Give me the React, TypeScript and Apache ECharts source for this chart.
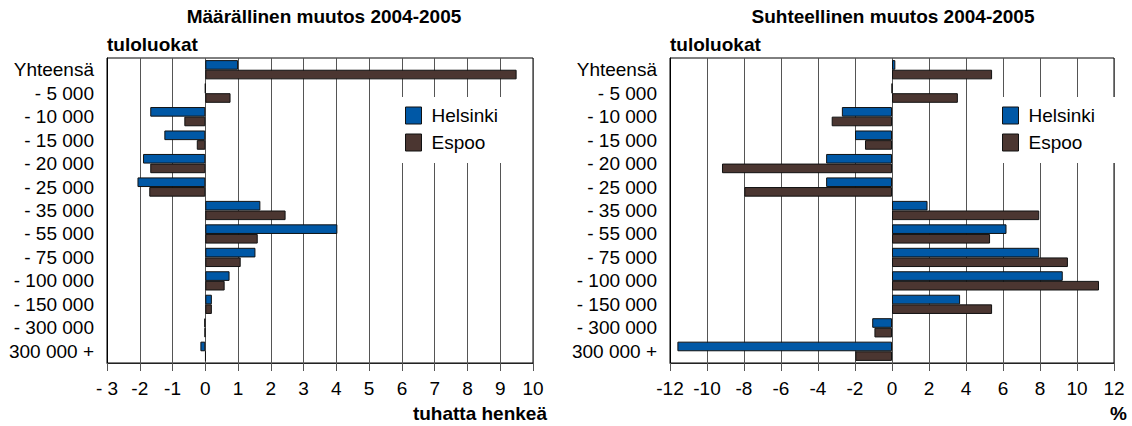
import React, { useEffect, useRef } from "react";
import * as echarts from "echarts";

const categories = [
  "Yhteensä",
  "- 5 000",
  "- 10 000",
  "- 15 000",
  "- 20 000",
  "- 25 000",
  "- 35 000",
  "- 55 000",
  "- 75 000",
  "- 100 000",
  "- 150 000",
  "- 300 000",
  "300 000 +",
];

// Määrällinen muutos (tuhatta henkeä)
const helsinkiAbs = [1.0, 0, -1.68, -1.25, -1.9, -2.07, 1.68, 4.03, 1.53, 0.74, 0.2, -0.03, -0.15];
const espooAbs = [9.5, 0.77, -0.64, -0.26, -1.68, -1.71, 2.45, 1.6, 1.08, 0.59, 0.2, -0.02, 0.01];

// Suhteellinen muutos (%)
const helsinkiRel = [0.18, 0, -2.71, -2.0, -3.56, -3.56, 1.92, 6.19, 7.96, 9.23, 3.68, -1.07, -11.6];
const espooRel = [5.41, 3.56, -3.26, -1.46, -9.19, -7.98, 7.96, 5.3, 9.51, 11.19, 5.41, -0.95, -1.98];

const seriesNames = ["Helsinki", "Espoo"];
const colors = ["#0058a6", "#4b3631"];

const leftTitle = "Määrällinen muutos 2004-2005";
const rightTitle = "Suhteellinen muutos 2004-2005";
const yName = "tuloluokat";
const leftXName = "tuhatta henkeä";
const rightXName = "%";

const FONT = "'Liberation Sans', Arial, Helvetica, sans-serif";

export default function App() {
  const ref = useRef<HTMLDivElement>(null);

  useEffect(() => {
    if (!ref.current) return;
    const chart = echarts.init(ref.current, null, { renderer: "svg" });

    const gridLine = { show: true, lineStyle: { color: "#555", width: 1 } };
    const makeX = (gridIndex: number, min: number, max: number, interval: number, fmt?: (v: number) => string) => ({
      type: "value",
      gridIndex,
      min,
      max,
      interval,
      splitLine: gridLine,
      axisLine: { show: true, onZero: false, lineStyle: { color: "#222", width: 1 } },
      axisTick: { show: true, length: 8, lineStyle: { color: "#555" } },
      axisLabel: {
        color: "#000",
        fontSize: 19,
        fontFamily: FONT,
        margin: 16,
        formatter: fmt,
      },
    });
    const makeY = (gridIndex: number) => ({
      type: "category",
      gridIndex,
      data: categories,
      inverse: true,
      axisLine: { show: true, onZero: false, lineStyle: { color: "#000", width: 1 } },
      axisTick: { show: false },
      axisLabel: { color: "#000", fontSize: 19, fontFamily: FONT, margin: 13, interval: 0 },
      splitLine: { show: false },
    });
    const makeBar = (name: string, data: number[], idx: number, colorIdx: number) => ({
      type: "bar",
      name,
      xAxisIndex: idx,
      yAxisIndex: idx,
      data,
      barGap: "0%",
      barCategoryGap: "18%",
      itemStyle: { color: colors[colorIdx], borderColor: "#111", borderWidth: 1 },
      z: 3,
    });
    const makeLegend = (left: number) => ({
      left,
      top: 97,
      orient: "vertical",
      data: seriesNames,
      icon: "rect",
      itemWidth: 16,
      itemHeight: 17,
      itemGap: 8,
      backgroundColor: "#fff",
      padding: [9, 30, 11, 10],
      itemStyle: { borderColor: "#111", borderWidth: 1 },
      textStyle: { color: "#000", fontSize: 19, fontFamily: FONT, padding: [0, 0, 0, 5] },
      selectedMode: false,
      z: 5,
    });

    const boldText = (x: number, y: number, text: string, align: string) => ({
      type: "text",
      x,
      y,
      style: {
        text,
        fill: "#000",
        fontSize: 19,
        fontWeight: "bold",
        fontFamily: FONT,
        align,
        verticalAlign: "middle",
      },
      z: 10,
    });

    chart.setOption({
      animation: false,
      backgroundColor: "#fff",
      textStyle: { fontFamily: FONT },
      grid: [
        { left: 107, right: 1132 - 533, top: 58, bottom: 426 - 363, show: true, borderColor: "#000", borderWidth: 1, backgroundColor: "transparent" },
        { left: 670, right: 1132 - 1114, top: 58, bottom: 426 - 363, show: true, borderColor: "#000", borderWidth: 1, backgroundColor: "transparent" },
      ],
      xAxis: [
        makeX(0, -3, 10, 1, (v: number) => (v === -3 ? "- 3" : String(v))),
        makeX(1, -12, 12, 2),
      ],
      yAxis: [makeY(0), makeY(1)],
      legend: [makeLegend(395), makeLegend(992)],
      series: [
        makeBar(seriesNames[0], helsinkiAbs, 0, 0),
        makeBar(seriesNames[1], espooAbs, 0, 1),
        makeBar(seriesNames[0], helsinkiRel, 1, 0),
        makeBar(seriesNames[1], espooRel, 1, 1),
      ],
      graphic: [
        boldText(324, 16, leftTitle, "center"),
        boldText(893, 16, rightTitle, "center"),
        boldText(107, 44, yName, "left"),
        boldText(670, 44, yName, "left"),
        boldText(547, 413, leftXName, "right"),
        boldText(1127, 413, rightXName, "right"),
      ],
    });

    return () => chart.dispose();
  }, []);

  return (
    <div
      ref={ref}
      style={{ position: "fixed", left: 0, top: 0, width: 1132, height: 426 }}
    />
  );
}
